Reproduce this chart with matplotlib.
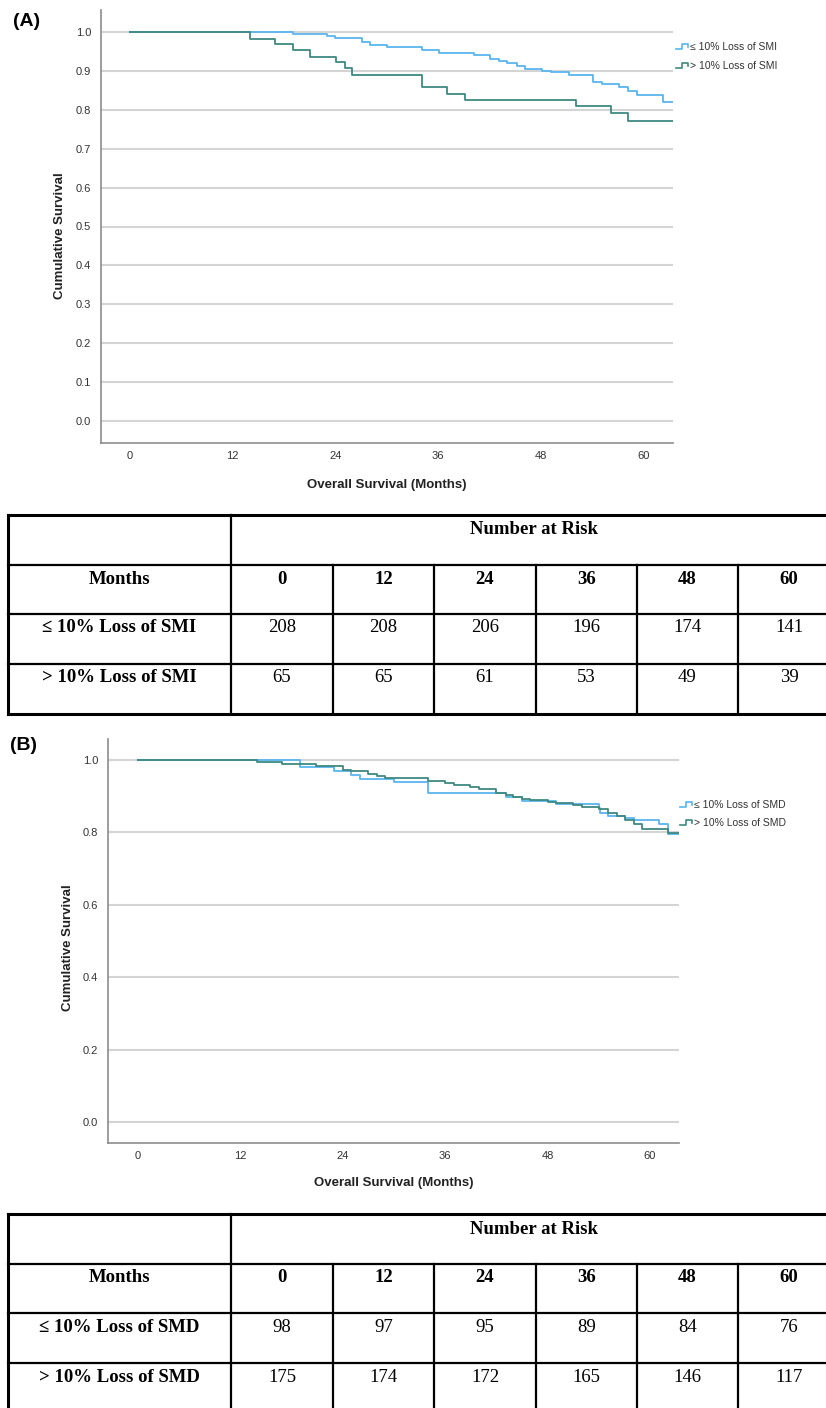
import matplotlib
matplotlib.use("Agg")
import matplotlib.pyplot as plt

W, H = 826, 1408
SANS = ['Liberation Sans', 'DejaVu Sans']
SERIF = ['Liberation Serif', 'DejaVu Serif']

BLUE = '#58b5ef'
GREEN = '#3e8981'
GRID = '#d4d4d4'
SPINE = '#8c8c8c'

# ---- Panel A: SMI (event times in months, survival after the step)
a_le_t = [0, 19.1, 23.0, 24.0, 27.1, 28.1, 30.0, 34.1, 36.1, 40.2, 42.1, 43.1, 44.1,
          45.2, 46.2, 48.2, 49.2, 51.3, 54.1, 55.2, 57.2, 58.2, 59.3, 62.3]
a_le_s = [1.0, 0.996, 0.991, 0.986, 0.974, 0.968, 0.961, 0.953, 0.946, 0.940, 0.931, 0.927, 0.920,
          0.912, 0.905, 0.901, 0.897, 0.891, 0.873, 0.867, 0.858, 0.848, 0.839, 0.821]
a_gt_t = [0, 14.0, 17.0, 19.0, 21.1, 24.1, 25.1, 26.0, 34.1, 37.1, 39.2, 52.2, 56.2, 58.2]
a_gt_s = [1.0, 0.983, 0.970, 0.955, 0.937, 0.922, 0.907, 0.891, 0.860, 0.842, 0.826, 0.810, 0.791, 0.772]
a_end = 63.5

# ---- Panel B: SMD
b_le_t = [0, 19.0, 23.0, 25.0, 26.0, 30.0, 34.0, 43.1, 45.0, 49.0, 54.0, 54.2, 55.1, 57.1,
          58.1, 61.1, 62.1]
b_le_s = [1.0, 0.981, 0.969, 0.958, 0.948, 0.939, 0.907, 0.898, 0.886, 0.877, 0.868, 0.854, 0.844,
          0.840, 0.833, 0.823, 0.795]
b_gt_t = [0, 13.9, 16.9, 20.9, 24.0, 25.0, 27.0, 28.0, 29.0, 34.0, 36.0, 37.0, 38.9, 40.0, 42.0,
          43.1, 44.0, 45.0, 46.0, 48.0, 49.0, 51.0, 52.0, 54.0, 55.1, 56.1, 57.1, 58.1, 59.1, 62.1]
b_gt_s = [1.0, 0.994, 0.988, 0.982, 0.972, 0.968, 0.960, 0.954, 0.949, 0.942, 0.936, 0.931, 0.925,
          0.919, 0.908, 0.903, 0.897, 0.891, 0.888, 0.883, 0.880, 0.874, 0.869, 0.863, 0.852, 0.844,
          0.835, 0.823, 0.810, 0.797]
b_end = 63.4

# ---- Number at risk tables
months = [0, 12, 24, 36, 48, 60]
risk_smi_le = [208, 208, 206, 196, 174, 141]
risk_smi_gt = [65, 65, 61, 53, 49, 39]
risk_smd_le = [98, 97, 95, 89, 84, 76]
risk_smd_gt = [175, 174, 172, 165, 146, 117]

fig = plt.figure(figsize=(W / 100, H / 100), dpi=100)
fig.patch.set_facecolor('white')

# overlay axes in pixel coordinates for tables, panel letters and legends
ov = fig.add_axes([0, 0, 1, 1], zorder=0)
ov.set_xlim(0, W)
ov.set_ylim(H, 0)
ov.axis('off')


def px_axes(x0, y0, x1, y1):
    return [x0 / W, 1 - y1 / H, (x1 - x0) / W, (y1 - y0) / H]


def km_panel(rect, ylo, yhi, yticks, xlo, xhi, curves, end_t):
    ax = fig.add_axes(rect, zorder=1)
    ax.patch.set_alpha(0)
    for t, s, c in curves:
        ax.step(list(t) + [end_t], list(s) + [s[-1]], where='post', color=c, lw=1.3)
    ax.set_ylim(ylo, yhi)
    ax.set_xlim(xlo, xhi)
    ax.set_yticks(yticks)
    ax.set_yticklabels([f"{v:.1f}" for v in yticks])
    ax.set_xticks(months)
    ax.yaxis.grid(True, color=GRID, lw=1.5)
    ax.set_axisbelow(True)
    for side in ['top', 'right']:
        ax.spines[side].set_visible(False)
    for side in ['left', 'bottom']:
        ax.spines[side].set_color(SPINE)
        ax.spines[side].set_linewidth(1.2)
    ax.tick_params(axis='both', length=0, labelsize=8, labelcolor='#333333')
    ax.tick_params(axis='y', pad=7)
    ax.tick_params(axis='x', pad=6)
    for lab in ax.get_xticklabels() + ax.get_yticklabels():
        lab.set_family(SANS)
    return ax


# Panel A
axA = km_panel(px_axes(101, 10, 673, 443), -0.057, 1.057, [0.0, 0.1, 0.2, 0.3, 0.4, 0.5, 0.6, 0.7, 0.8, 0.9, 1.0],
               -3.4, 63.5, [(a_le_t, a_le_s, BLUE), (a_gt_t, a_gt_s, GREEN)], a_end)
# Panel B
axB = km_panel(px_axes(108, 739, 679, 1143), -0.057, 1.057, [0.0, 0.2, 0.4, 0.6, 0.8, 1.0],
               -3.5, 63.4, [(b_le_t, b_le_s, BLUE), (b_gt_t, b_gt_s, GREEN)], b_end)

# axis titles and panel letters
ov.text(60, 236, 'Cumulative Survival', rotation=90, ha='center', va='center',
        fontsize=9.5, fontweight='bold', color='#222222', family=SANS)
ov.text(387, 485, 'Overall Survival (Months)', ha='center', va='center',
        fontsize=9.5, fontweight='bold', color='#222222', family=SANS)
ov.text(68, 948, 'Cumulative Survival', rotation=90, ha='center', va='center',
        fontsize=9.5, fontweight='bold', color='#222222', family=SANS)
ov.text(394, 1183, 'Overall Survival (Months)', ha='center', va='center',
        fontsize=9.5, fontweight='bold', color='#222222', family=SANS)
ov.text(13, 22, '(A)', ha='left', va='center', fontsize=14, fontweight='bold', family=SANS)
ov.text(10, 746, '(B)', ha='left', va='center', fontsize=14, fontweight='bold', family=SANS)


def legend_item(x, y, color, label):
    xs = [x, x + 6, x + 6, x + 12, x + 12]
    ys = [y + 2, y + 2, y - 3, y - 3, y]
    ov.plot(xs, ys, color=color, lw=1.2)
    ov.text(x + 14, y, label, ha='left', va='center', fontsize=7.5, color='#333333', family=SANS)


legend_item(676, 47, BLUE, '≤ 10% Loss of SMI')
legend_item(676, 66, GREEN, '> 10% Loss of SMI')
legend_item(680, 805, BLUE, '≤ 10% Loss of SMD')
legend_item(680, 823, GREEN, '> 10% Loss of SMD')


def risk_table(top, row_le, row_gt, name):
    rows = [top, top + 50, top + 99, top + 149, top + 199]
    cols = [8, 231, 333, 434, 536, 637, 738]
    right = W + 20
    lw_outer, lw_inner = 2.2, 1.6
    # horizontal lines
    ov.plot([cols[0], right], [rows[0], rows[0]], color='black', lw=lw_outer)
    for r in rows[1:4]:
        ov.plot([cols[0], right], [r, r], color='black', lw=lw_inner)
    ov.plot([cols[0], right], [rows[4], rows[4]], color='black', lw=lw_outer)
    # vertical lines
    ov.plot([cols[0], cols[0]], [rows[0], rows[4]], color='black', lw=lw_outer)
    ov.plot([cols[1], cols[1]], [rows[0], rows[4]], color='black', lw=lw_inner)
    for c in cols[2:]:
        ov.plot([c, c], [rows[1], rows[4]], color='black', lw=lw_inner)
    centers = [(cols[i] + cols[i + 1]) / 2 for i in range(len(cols) - 1)] + [cols[-1] + 51]
    ov.text(534, rows[0] + 15, 'Number at Risk', ha='center', va='center',
            fontsize=13.5, fontweight='bold', family=SERIF)
    ov.text(centers[0], rows[1] + 14, 'Months', ha='center', va='center',
            fontsize=13.5, fontweight='bold', family=SERIF)
    ov.text(centers[0], rows[2] + 14, f'≤ 10% Loss of {name}', ha='center', va='center',
            fontsize=13.5, fontweight='bold', family=SERIF)
    ov.text(centers[0], rows[3] + 14, f'> 10% Loss of {name}', ha='center', va='center',
            fontsize=13.5, fontweight='bold', family=SERIF)
    for i, m in enumerate(months):
        ov.text(centers[i + 1], rows[1] + 14, str(m), ha='center', va='center',
                fontsize=13.5, fontweight='bold', family=SERIF)
        ov.text(centers[i + 1], rows[2] + 14, str(row_le[i]), ha='center', va='center',
                fontsize=13.5, family=SERIF)
        ov.text(centers[i + 1], rows[3] + 14, str(row_gt[i]), ha='center', va='center',
                fontsize=13.5, family=SERIF)


risk_table(515, risk_smi_le, risk_smi_gt, 'SMI')
risk_table(1214, risk_smd_le, risk_smd_gt, 'SMD')

fig.savefig('out.png', dpi=100, facecolor='white')
